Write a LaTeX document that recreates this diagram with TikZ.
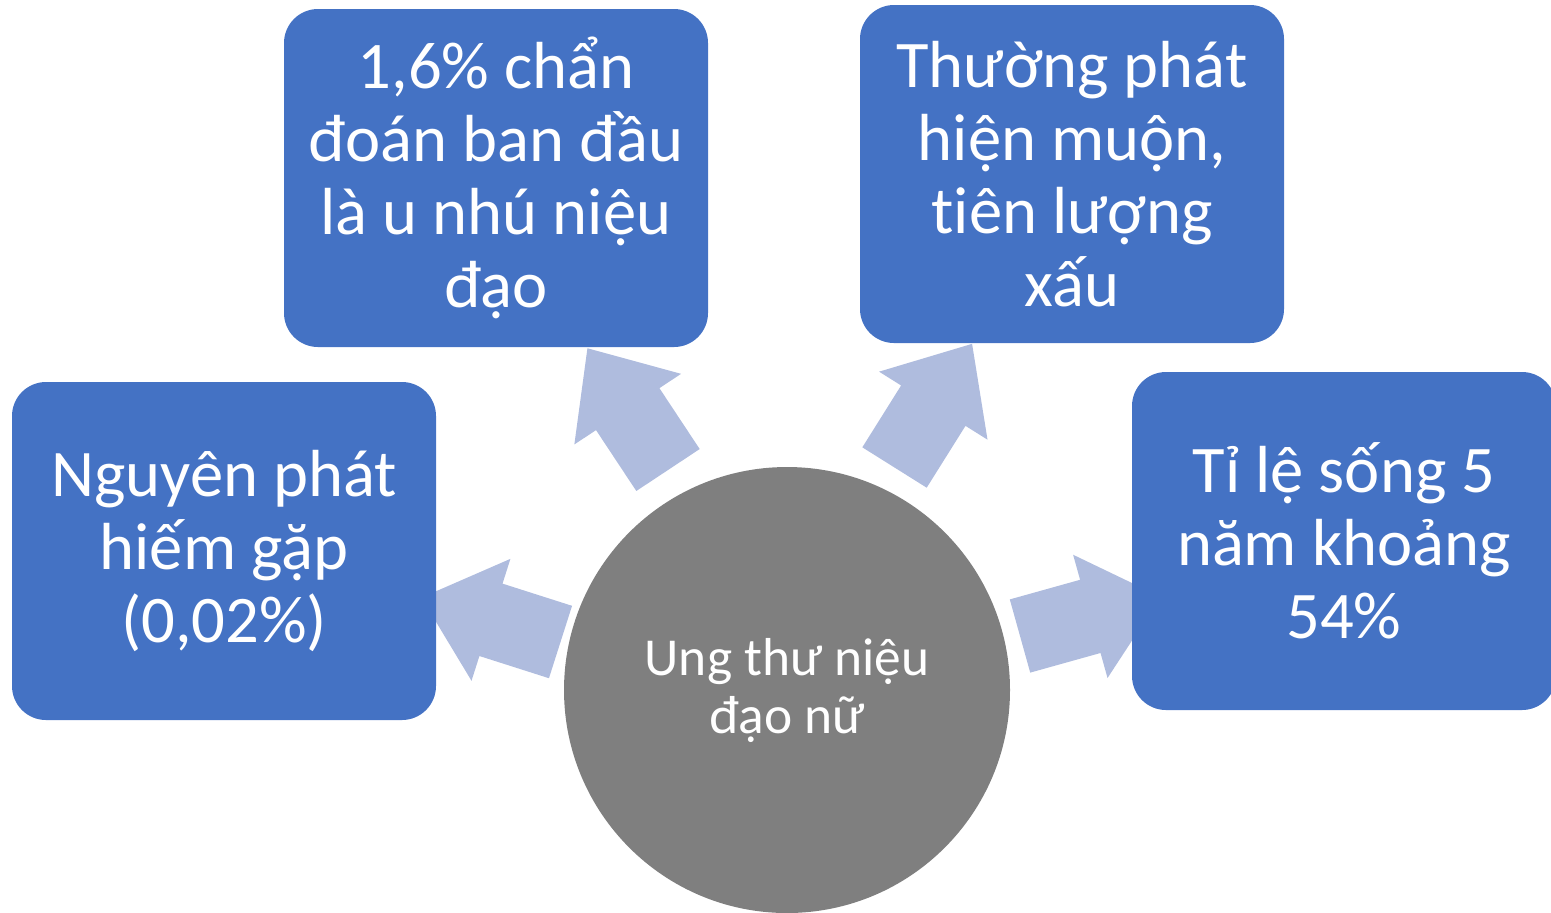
\documentclass[tikz,border=0pt]{standalone}
\usepackage{fontspec}
\setmainfont{Carlito}[Ligatures=NoCommon]
\usepackage{tikz}
\usetikzlibrary{positioning}

\definecolor{boxblue}{RGB}{68,114,196}
\definecolor{arrowblue}{RGB}{175,188,222}
\definecolor{hubgray}{RGB}{127,127,127}

\begin{document}
\begin{tikzpicture}[x=0.5pt,y=-0.5pt,
  box/.style={rectangle, rounded corners=17pt, fill=boxblue, text=white,
    minimum width=212pt, minimum height=169pt, inner sep=0pt, align=center,
    font=\fontsize{33.3}{36.5}\selectfont},
  hub/.style={circle, fill=hubgray, text=white, minimum size=223pt,
    inner sep=0pt, align=center, font=\fontsize{26.7}{29}\selectfont}]

\useasboundingbox (0,0) rectangle (1551,912);

\coordinate (c) at (787,690);

% block arrows: back midpoint / angle
\foreach \x/\y/\a in {560.5/642/162.3, 668/470/123.5, 894.5/467.5/57.9, 1020/636/15.6}
    \fill[arrowblue, shift={(\x,\y)}, rotate=\a]
        (0,-38) -- (73,-38) -- (73,-64) -- (146,0) -- (73,64) -- (73,38) -- (0,38) -- cycle;

\node[box] (rare) at (224,551) {Nguyên phát\\hiếm gặp\\(0,02\%)};
\node[box] (misdiag) at (496,178) {1,6\% chẩn\\đoán ban đầu\\là u nhú niệu\\đạo};
\node[box] (late) at (1072,174) {Thường phát\\hiện muộn,\\tiên lượng\\xấu};
\node[box] (survival) at (1344,541) {Tỉ lệ sống 5\\năm khoảng\\54\%};

\node[hub] (hub) at (c) {Ung thư niệu\\đạo nữ};

\end{tikzpicture}
\end{document}
